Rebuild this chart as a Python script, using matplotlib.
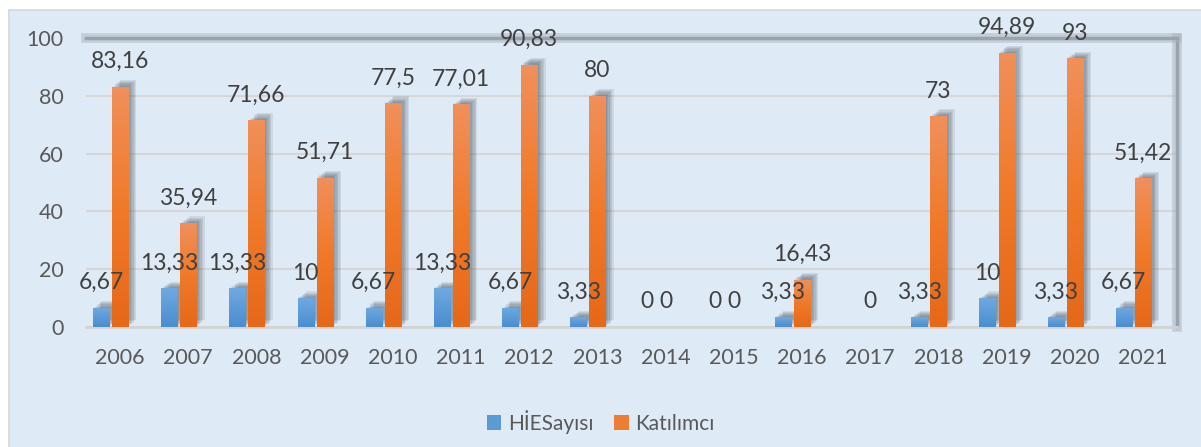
import numpy as np
import matplotlib.pyplot as plt
import matplotlib.patheffects as pe
from matplotlib.patches import Rectangle
from matplotlib.colors import LinearSegmentedColormap

years = ['2006', '2007', '2008', '2009', '2010', '2011', '2012', '2013',
         '2014', '2015', '2016', '2017', '2018', '2019', '2020', '2021']
hies = [6.67, 13.33, 13.33, 10, 6.67, 13.33, 6.67, 3.33,
        0, 0, 3.33, np.nan, 3.33, 10, 3.33, 6.67]
katilimci = [83.16, 35.94, 71.66, 51.71, 77.5, 77.01, 90.83, 80,
             0, 0, 16.43, 0, 73, 94.89, 93, 51.42]
yticks = [0, 20, 40, 60, 80, 100]

plt.rcParams['font.family'] = ['Lato', 'DejaVu Sans']

fig = plt.figure(figsize=(12.01, 4.47), dpi=100, facecolor='white')
# chart area background box
fig.patches.append(Rectangle((9 / 1201, -0.01), 1.02, 1 - 10 / 447 + 0.01,
                             transform=fig.transFigure, facecolor='#deeaf6',
                             edgecolor='#d4d8dc', linewidth=1.2, zorder=-10))

ax = fig.add_axes([86 / 1201, 1 - 327 / 447, (1177 - 86) / 1201, (327 - 38) / 447])
ax.set_facecolor('none')

x = np.arange(len(years))
w = 0.235
off = -0.28

# soft dark shadow up/right of each bar
shadow = [pe.SimplePatchShadow(offset=(d, d * 0.8), shadow_rgbFace='#3c4650', alpha=0.11)
          for d in (1, 2, 3, 4, 5, 6)] + [pe.Normal()]

blue_cmap = LinearSegmentedColormap.from_list('b', ['#4a8dd0', '#70a9df'])
orange_cmap = LinearSegmentedColormap.from_list('o', ['#e66819', '#f07a2a', '#f0905c'])

b1 = ax.bar(x + off, np.nan_to_num(hies), w, color='#5b9bd5', zorder=3)
b2 = ax.bar(x, katilimci, w, color='#ed7d31', zorder=3)

grad = np.linspace(0, 1, 256).reshape(-1, 1)
for bars, cmap in ((b1, blue_cmap), (b2, orange_cmap)):
    for r in bars:
        h = r.get_height()
        if h <= 0:
            continue
        r.set_path_effects(shadow)
        x0 = r.get_x()
        im = ax.imshow(grad, cmap=cmap, origin='lower', aspect='auto',
                       extent=(x0, x0 + r.get_width(), 0, h), zorder=4)
        im.set_clip_path(r)

# data labels
for xi, v in zip(x, hies):
    if not np.isnan(v):
        ax.annotate(f'{v:g}'.replace('.', ','), (xi + off, v), xytext=(0, 18),
                    textcoords='offset points', ha='center', va='center',
                    fontsize=16.5, color='#404040', zorder=6)
for xi, v in zip(x, katilimci):
    ax.annotate(f'{v:g}'.replace('.', ','), (xi, v), xytext=(0, 18),
                textcoords='offset points', ha='center', va='center',
                fontsize=16.5, color='#404040', zorder=6)

ax.set_xlim(-0.5, len(years) - 0.5)
ax.set_ylim(0, 100)
ax.set_yticks(yticks)
ax.set_xticks(x)
ax.set_xticklabels(years)
ax.tick_params(axis='both', length=0, labelsize=15.5, colors='#595959')
ax.tick_params(axis='y', pad=16)
ax.tick_params(axis='x', pad=15)
ax.grid(axis='y', color='#d6d6d6', linewidth=1.5, zorder=1)
ax.set_axisbelow(True)

ax.spines['left'].set_visible(False)
ax.spines['bottom'].set_color('#d3d3d3')
ax.spines['bottom'].set_linewidth(2)
for s in ('top', 'right'):
    ax.spines[s].set_color('#9aa3ab')
    ax.spines[s].set_linewidth(2.5)
    ax.spines[s].set_path_effects([pe.Stroke(linewidth=7, foreground='#a9b3bd', alpha=0.5),
                                   pe.Normal()])

leg = ax.legend([b1, b2], ['HİESayısı', 'Katılımcı'], loc='center',
                bbox_to_anchor=(0.5, 1 - 422 / 447), bbox_transform=fig.transFigure,
                ncol=2, frameon=False, fontsize=15, handlelength=0.7, handleheight=0.7,
                handletextpad=0.3, columnspacing=1.0)
for t in leg.get_texts():
    t.set_color('#595959')
for hnd in leg.legend_handles:
    hnd.set_path_effects([])

fig.savefig('out.png', dpi=100, facecolor='white')
